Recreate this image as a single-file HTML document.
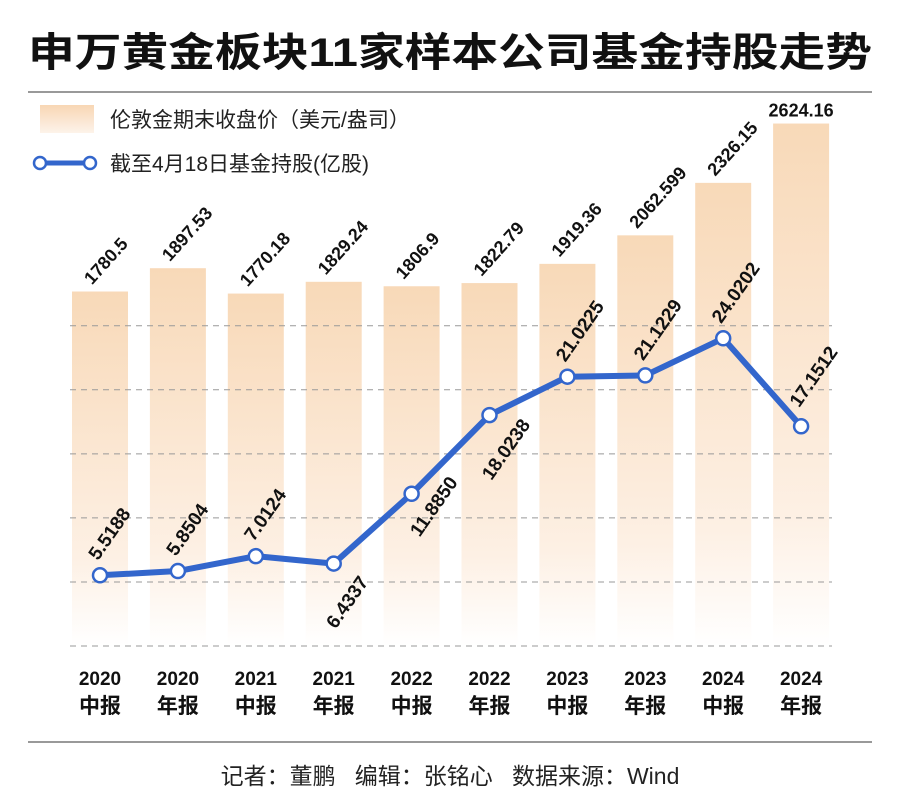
<!DOCTYPE html>
<html><head><meta charset="utf-8"><style>
body{margin:0;background:#fff;width:900px;height:804px;overflow:hidden;font-family:"Liberation Sans","Noto Sans CJK SC",sans-serif}
</style></head><body>
<svg width="900" height="804" xmlns="http://www.w3.org/2000/svg" style="font-family:'Liberation Sans','Noto Sans CJK SC',sans-serif">
<defs>
<linearGradient id="bg" x1="0" y1="0" x2="0" y2="1">
<stop offset="0" stop-color="#f8d9b8"/><stop offset="0.75" stop-color="#fdf0e4"/><stop offset="1" stop-color="#ffffff"/></linearGradient>
<linearGradient id="lg" x1="0" y1="0" x2="0" y2="1">
<stop offset="0" stop-color="#f8d6b4"/><stop offset="1" stop-color="#fdf3ea"/></linearGradient>
</defs>
<text x="28" y="66" font-size="40" font-weight="bold" fill="#111" textLength="844" lengthAdjust="spacingAndGlyphs">申万黄金板块11家样本公司基金持股走势</text>
<line x1="28" y1="92" x2="872" y2="92" stroke="#999" stroke-width="2"/>
<rect x="40" y="105" width="54" height="28" fill="url(#lg)"/>
<text x="110" y="127" font-size="21" fill="#222">伦敦金期末收盘价（美元/盎司）</text>
<line x1="40" y1="163" x2="94" y2="163" stroke="#3366cc" stroke-width="5"/>
<circle cx="40" cy="163" r="6" fill="#fff" stroke="#3366cc" stroke-width="2.5"/>
<circle cx="90" cy="163" r="6" fill="#fff" stroke="#3366cc" stroke-width="2.5"/>
<text x="110" y="171" font-size="21" fill="#222">截至4月18日基金持股(亿股)</text>
<g id="plot"></g>
<line x1="28" y1="742" x2="872" y2="742" stroke="#999" stroke-width="2"/>
<text x="450" y="784" text-anchor="middle" font-size="23" fill="#222" xml:space="preserve">记者：董鹏   编辑：张铭心   数据来源：Wind</text>
</svg>
<script>
const years=["2020","2020","2021","2021","2022","2022","2023","2023","2024","2024"];
const periods=["中报","年报","中报","年报","中报","年报","中报","年报","中报","年报"];
const goldPrice=[1780.5,1897.53,1770.18,1829.24,1806.9,1822.79,1919.36,2062.599,2326.15,2624.16];
const goldLabels=["1780.5","1897.53","1770.18","1829.24","1806.9","1822.79","1919.36","2062.599","2326.15","2624.16"];
const holdings=[5.5188,5.8504,7.0124,6.4337,11.8850,18.0238,21.0225,21.1229,24.0202,17.1512];
const holdLabels=["5.5188","5.8504","7.0124","6.4337","11.8850","18.0238","21.0225","21.1229","24.0202","17.1512"];
const gridVals=[0,5,10,15,20,25];
const NS="http://www.w3.org/2000/svg";
const g=document.getElementById('plot');
const base=646;
const xs=i=>100+i*77.9;
const yBar=v=>base-v*0.1991;
const yLine=v=>base-v*12.81;
function mk(t,a){const e=document.createElementNS(NS,t);for(const k in a)e.setAttribute(k,a[k]);g.appendChild(e);return e;}
goldPrice.forEach((v,i)=>{
 const r=mk('rect',{x:xs(i)-28,y:yBar(v),width:56,height:base-yBar(v),fill:'url(#bg)'});
 
 
});
gridVals.forEach(v=>{
 const l=mk('line',{x1:70,x2:832,y1:yLine(v),y2:yLine(v),stroke:'#999','stroke-width':1,'stroke-dasharray':'6,5'});
 
 
});
goldPrice.forEach((v,i)=>{
 let t;
 if(i===goldPrice.length-1){t=mk('text',{x:xs(i),y:yBar(v)-7,'text-anchor':'middle','font-size':18,'font-weight':'bold',fill:'#111'});}
 else{const x=xs(i)-8,y=yBar(v)-6;t=mk('text',{x:x,y:y,'font-size':18,'font-weight':'bold',fill:'#111',transform:`rotate(-48 ${x} ${y})`});}
 t.textContent=goldLabels[i];
 
 
});
const pts=holdings.map((v,i)=>xs(i)+','+yLine(v)).join(' ');
const pl=mk('polyline',{points:pts,fill:'none',stroke:'#3366cc','stroke-width':6,'stroke-linejoin':'round'});


holdings.forEach((v,i)=>{
 const c=mk('circle',{cx:xs(i),cy:yLine(v),r:7,fill:'#fff',stroke:'#3366cc','stroke-width':2.5});
 
 
 let x,y;
 if(i===3||i===5){x=xs(i)+2;y=yLine(v)+66;}
 else if(i===4){x=xs(i)+8;y=yLine(v)+44;}
 else if(i===9){x=xs(i)-2;y=yLine(v)-18;}
 else{x=xs(i)-2;y=yLine(v)-14;}
 const t=mk('text',{x:x,y:y,'font-size':19,'font-weight':'bold',fill:'#111',transform:`rotate(-55 ${x} ${y})`});
 t.textContent=holdLabels[i];
 
 
});
years.forEach((yr,i)=>{
 const t1=mk('text',{x:xs(i),y:685,'text-anchor':'middle','font-size':19,'font-weight':'bold',fill:'#111'});
 t1.textContent=yr;
 
 
 const t2=mk('text',{x:xs(i),y:713,'text-anchor':'middle','font-size':21,'font-weight':'bold',fill:'#111'});
 t2.textContent=periods[i];
 
 
});
</script>
</body></html>
